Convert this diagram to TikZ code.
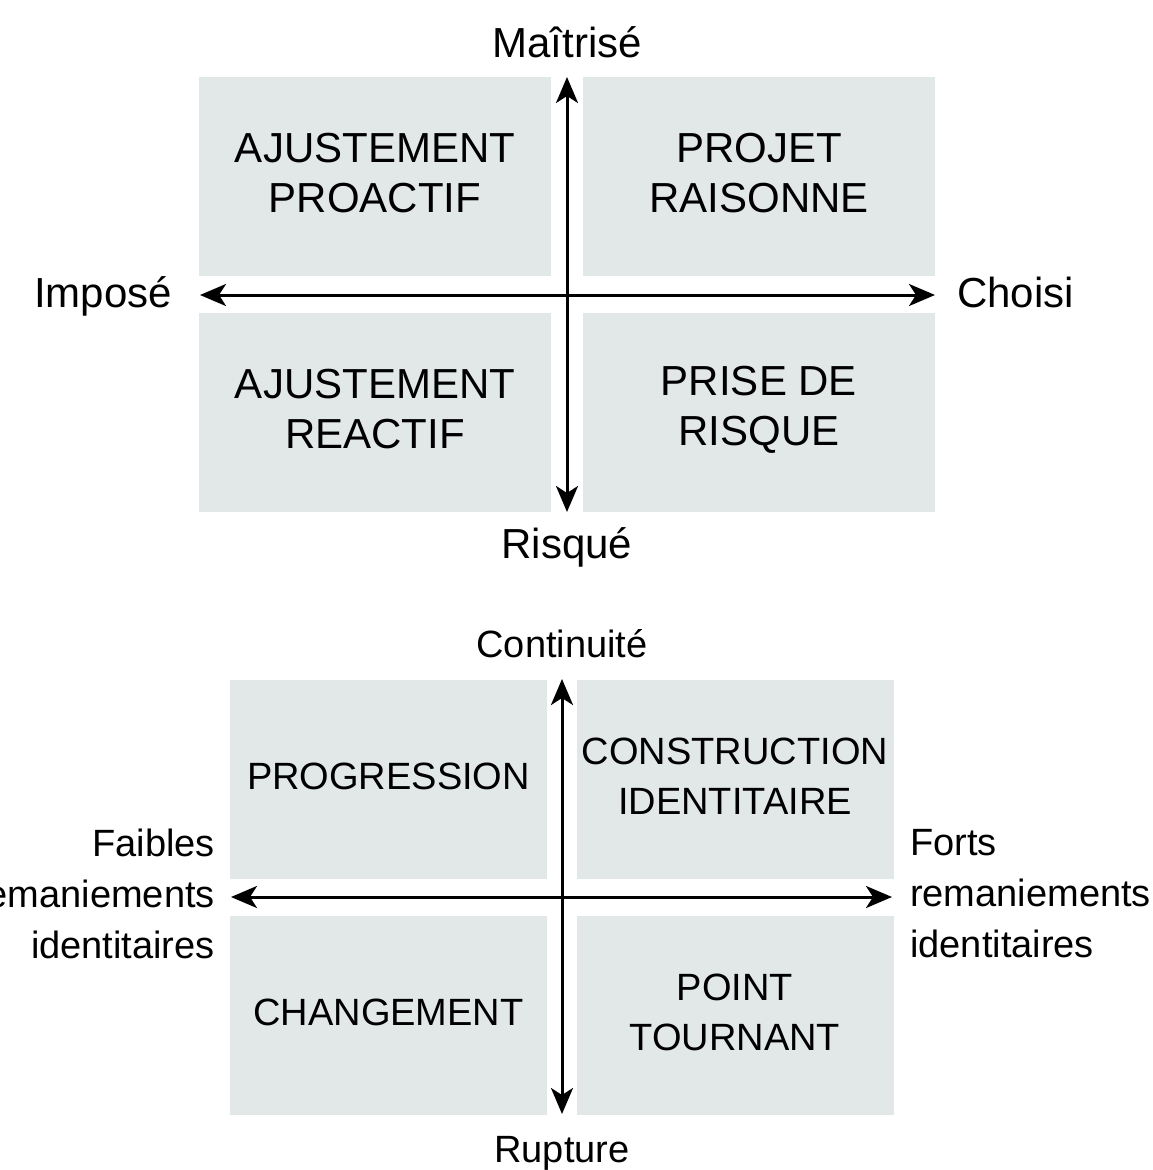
\documentclass[tikz,border=0pt]{standalone}
\usepackage{fontspec}
\setmainfont{Liberation Sans}
\usetikzlibrary{arrows.meta}
\definecolor{boxfill}{RGB}{226,232,232}
\tikzset{
  quad/.style={fill=boxfill, draw=none, inner sep=0pt},
  quadA/.style={quad, minimum width=352pt, minimum height=199pt},
  quadB/.style={quad, minimum width=317pt, minimum height=199pt},
  txtA/.style={inner sep=0pt, align=center, font=\fontsize{42}{50}\selectfont, yshift=3pt},
  txtB/.style={inner sep=0pt, align=center, font=\fontsize{38}{50}\selectfont, yshift=3pt},
  axis/.style={line width=3pt, {Stealth[length=26pt,width=22pt,inset=7pt]}-{Stealth[length=26pt,width=22pt,inset=7pt]}},
  lblA/.style={inner sep=0pt, font=\fontsize{42}{50}\selectfont},
  lblB/.style={inner sep=0pt, font=\fontsize{38}{51}\selectfont},
}
\begin{document}
\begin{tikzpicture}[x=1pt,y=-1pt]
\useasboundingbox (0,0) rectangle (1152,1170);
% ---------- top diagram ----------
\node[quadA] (tl) at (375,176.5) {};
\node[quadA] (tr) at (759,176.5) {};
\node[quadA] (bl) at (375,412.5) {};
\node[quadA] (br) at (759,412.5) {};
\node[txtA] (tlt) at (tl) {AJUSTEMENT\\PROACTIF};
\node[txtA] (trt) at (tr) {PROJET\\RAISONNE};
\node[txtA] (blt) at (bl) {AJUSTEMENT\\REACTIF};
\node[txtA] (brt) at (br) {PRISE DE\\RISQUE};
\coordinate (tN) at (567,77);
\coordinate (tS) at (567,512);
\coordinate (tW) at (200,295);
\coordinate (tE) at (935,295);
\draw[axis] (tS) -- (tN);
\draw[axis] (tW) -- (tE);
\node[lblA, anchor=base] (maitrise) at (567,57.5) {Maîtrisé};
\node[lblA, anchor=base] (risque) at (567,558) {Risqué};
\node[lblA, anchor=base east] (impose) at (172,307) {Imposé};
\node[lblA, anchor=base west] (choisi) at (957,307) {Choisi};
% ---------- bottom diagram ----------
\node[quadB] (ptl) at (388.5,779) {};
\node[quadB] (ptr) at (735,779) {};
\node[quadB] (pbl) at (388.5,1015) {};
\node[quadB] (pbr) at (735,1015) {};
\node[txtB] (ptlt) at (ptl) {PROGRESSION};
\node[txtB] (ptrt) at (ptr) {CONSTRUCTION\\IDENTITAIRE};
\node[txtB] (pblt) at (pbl) {CHANGEMENT};
\node[txtB] (pbrt) at (pbr) {POINT\\TOURNANT};
\coordinate (bN) at (562,679);
\coordinate (bS) at (562,1114);
\coordinate (bW) at (231,897);
\coordinate (bE) at (892,897);
\draw[axis] (bS) -- (bN);
\draw[axis] (bW) -- (bE);
\node[lblB, anchor=base] (continuite) at (562,657) {Continuité};
\node[lblB, anchor=base] (rupture) at (562,1162) {Rupture};
\node[lblB, anchor=east, align=right] (faibles) at (215,894) {Faibles\\remaniements\\identitaires};
\node[lblB, anchor=west, align=left] (forts) at (910,894) {Forts\\remaniements\\identitaires};
\end{tikzpicture}
\end{document}
